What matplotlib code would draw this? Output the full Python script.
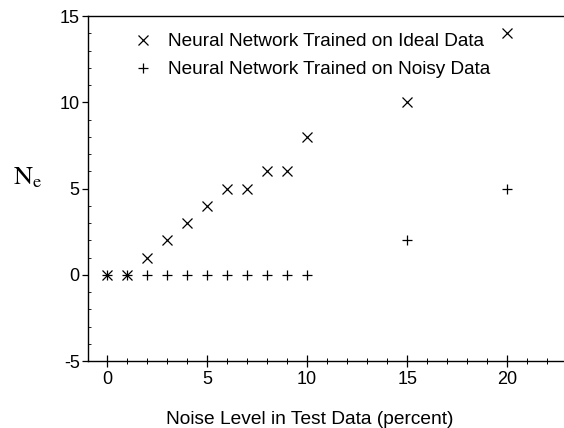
import numpy as np
import matplotlib
matplotlib.use("Agg")
import matplotlib.pyplot as plt
from matplotlib.ticker import MultipleLocator

# data
noise_level = [0, 1, 2, 3, 4, 5, 6, 7, 8, 9, 10, 15, 20]
ne_ideal = [0, 0, 1, 2, 3, 4, 5, 5, 6, 6, 8, 10, 14]
ne_noisy = [0, 0, 0, 0, 0, 0, 0, 0, 0, 0, 0, 2, 5]

plt.rcParams['font.family'] = ['Liberation Sans', 'DejaVu Sans']
plt.rcParams['axes.unicode_minus'] = False
plt.rcParams['mathtext.fontset'] = 'stix'

fig = plt.figure(figsize=(5.64, 4.28), dpi=100)
ax = fig.add_axes([0.156, 0.1565, 0.85, 0.806])

ax.plot(noise_level, ne_ideal, 'kx', markersize=6.5, markeredgewidth=0.9,
        label="Neural Network Trained on Ideal Data")
ax.plot(noise_level, ne_noisy, 'k+', markersize=6.5, markeredgewidth=0.9,
        label="Neural Network Trained on Noisy Data")

ax.set_xlim(-0.95, 23.0)
ax.set_ylim(-5, 15)
ax.set_xticks([0, 5, 10, 15, 20])
ax.set_yticks([-5, 0, 5, 10, 15])
ax.xaxis.set_minor_locator(MultipleLocator(1))
ax.yaxis.set_minor_locator(MultipleLocator(1))
ax.tick_params(axis='x', which='major', direction='inout', length=9, width=0.9, labelsize=13, pad=3)
ax.tick_params(axis='x', which='minor', direction='inout', length=4, width=0.7)
ax.tick_params(axis='y', which='major', direction='out', length=4, width=0.9, labelsize=13, pad=2)
ax.tick_params(axis='y', which='minor', direction='in', length=2, width=0.6)

ax.spines['right'].set_visible(False)
for s in ['left', 'top', 'bottom']:
    ax.spines[s].set_linewidth(1.0)

ax.set_xlabel("Noise Level in Test Data (percent)", fontsize=13.8)
ax.xaxis.set_label_coords(0.463, -0.145)
ax.set_ylabel(r"$\mathrm{N_e}$", fontsize=19, rotation=0, va='center')
ax.yaxis.set_label_coords(-0.125, 0.53)

ax.legend(loc='upper left', bbox_to_anchor=(0.06, 1.0), frameon=False, fontsize=13.7,
          handletextpad=0.8, labelspacing=0.55, handlelength=1.0)

fig.savefig("out.png", dpi=100)
